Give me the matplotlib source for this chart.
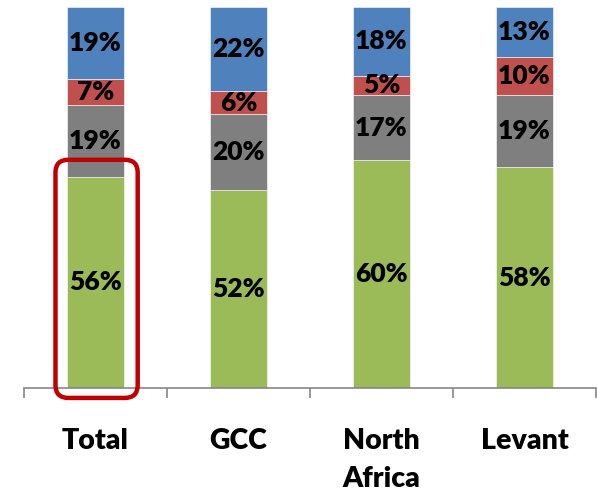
import matplotlib.pyplot as plt
from matplotlib.patches import FancyBboxPatch
import numpy as np

plt.rcParams['font.family'] = ['Lato', 'DejaVu Sans']

# data (share of respondents, %)
regions = ["Total", "GCC", "North\nAfrica", "Levant"]
green_vals = [55.5, 52.0, 59.8, 58.0]
gray_vals = [18.8, 19.9, 17.1, 18.9]
red_vals = [6.8, 6.0, 5.0, 10.0]
blue_vals = [18.9, 22.1, 18.1, 13.1]
green_lbl = ["56%", "52%", "60%", "58%"]
gray_lbl = ["19%", "20%", "17%", "19%"]
red_lbl = ["7%", "6%", "5%", "10%"]
blue_lbl = ["19%", "22%", "18%", "13%"]

colors = ["#9BBB59", "#7F7F7F", "#C0504D", "#4F81BD"]

fig = plt.figure(figsize=(5.97, 4.92), dpi=100)
ax = fig.add_axes([24/597, 104/492, 572/597, 381/492])

x = np.arange(len(regions))
w = 0.405
bottom = np.zeros(len(regions))
for vals, lbls, col in zip([green_vals, gray_vals, red_vals, blue_vals],
                           [green_lbl, gray_lbl, red_lbl, blue_lbl], colors):
    vals = np.array(vals)
    ax.bar(x, vals, w, bottom=bottom, color=col, edgecolor="white", linewidth=0.4)
    for xi, b, v, t in zip(x, bottom, vals, lbls):
        ax.text(xi, b + v / 2, t, ha="center", va="center",
                fontsize=19, fontweight="heavy", color="black")
    bottom += vals

ax.set_xlim(-0.5, 3.5)
ax.set_ylim(0, 100)

# highlight box around Total's green segment
box = FancyBboxPatch((-0.28, -2.6), 0.575, 62.5,
                     boxstyle="round,pad=0,rounding_size=0.09",
                     mutation_aspect=143 / 3.81,
                     fill=False, edgecolor="#C00000", linewidth=3.2,
                     clip_on=False, zorder=5)
ax.add_patch(box)

for s in ["top", "right", "left"]:
    ax.spines[s].set_visible(False)
ax.spines["bottom"].set_color("#868686")
ax.spines["bottom"].set_linewidth(1.2)
ax.set_yticks([])
ax.set_xticks(x)
ax.set_xticklabels(regions, fontsize=20.5, fontweight="heavy", linespacing=1.55)
ax.set_xticks(np.arange(-0.5, 4, 1), minor=True)
ax.tick_params(axis="x", which="major", length=0, pad=29)
ax.tick_params(axis="x", which="minor", length=7, color="#868686", width=1.2)

fig.savefig("out.png", dpi=100)
